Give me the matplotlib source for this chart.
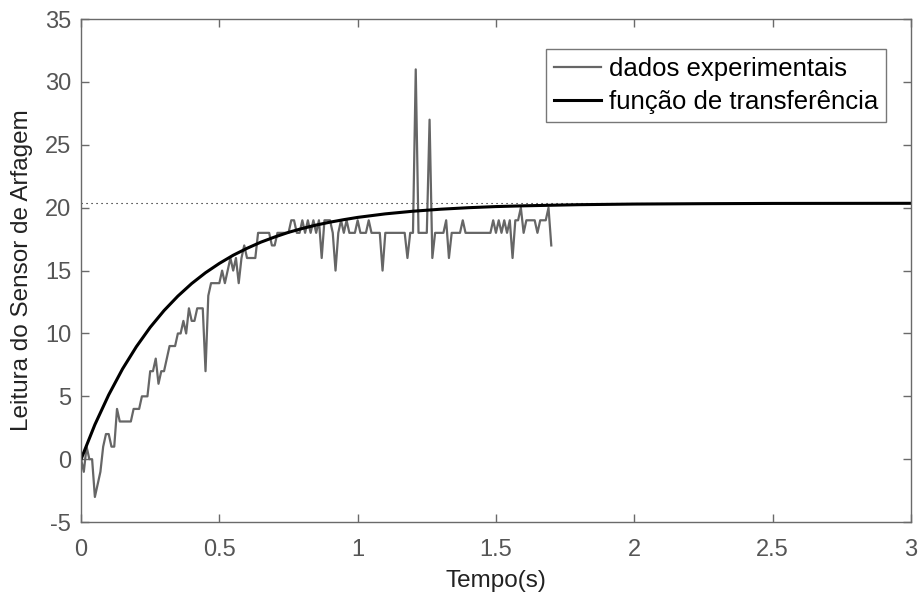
import numpy as np
import matplotlib
matplotlib.use("Agg")
import matplotlib.pyplot as plt

# experimental samples (dt = 0.01 s)
t_data = [i / 100 for i in range(171)]
y_data = [0, -1, 1, 0, 0, -3, -2, -1, 1, 2,
          2, 1, 1, 4, 3, 3, 3, 3, 3, 4,
          4, 4, 5, 5, 5, 7, 7, 8, 6, 7,
          7, 8, 9, 9, 9, 10, 10, 11, 10, 12,
          11, 11, 12, 12, 12, 7, 13, 14, 14, 14,
          14, 15, 14, 15, 16, 15, 16, 14, 16, 17,
          16, 16, 16, 16, 18, 18, 18, 18, 18, 17,
          17, 18, 18, 18, 18, 18, 19, 19, 18, 18,
          19, 18, 19, 18, 19, 18, 19, 16, 19, 19,
          19, 18, 15, 18, 19, 18, 19, 18, 18, 18,
          19, 18, 18, 18, 19, 18, 18, 18, 18, 15,
          18, 18, 18, 18, 18, 18, 18, 18, 16, 18,
          18, 31, 18, 18, 18, 18, 27, 16, 18, 18,
          18, 18, 19, 16, 18, 18, 18, 18, 19, 18,
          18, 18, 18, 18, 18, 18, 18, 18, 18, 19,
          18, 19, 18, 19, 18, 19, 16, 19, 19, 20,
          18, 19, 19, 19, 19, 18, 19, 19, 19, 20,
          17]

# transfer function response
t_tf = [0, 0.05, 0.10, 0.15, 0.20, 0.25, 0.30, 0.35, 0.40, 0.45, 0.50,
        0.55, 0.60, 0.65, 0.70, 0.75, 0.80, 0.85, 0.90, 0.95, 1.00,
        1.10, 1.20, 1.30, 1.40, 1.50, 1.60, 1.80, 2.00, 2.25, 2.50, 3.00]
y_tf = [0, 2.75, 5.12, 7.18, 8.95, 10.49, 11.82, 12.97, 13.97, 14.83, 15.57,
        16.22, 16.77, 17.26, 17.67, 18.04, 18.35, 18.62, 18.85, 19.05, 19.23,
        19.51, 19.72, 19.88, 20.00, 20.09, 20.15, 20.24, 20.29, 20.32, 20.34, 20.35]

final_value = 20.35

xticks = [0, 0.5, 1, 1.5, 2, 2.5, 3]
xtick_labels = ["0", "0.5", "1", "1.5", "2", "2.5", "3"]
yticks = [-5, 0, 5, 10, 15, 20, 25, 30, 35]

plt.rcParams['font.family'] = ['Liberation Sans', 'DejaVu Sans']
plt.rcParams['axes.unicode_minus'] = False

fig = plt.figure(figsize=(9.21, 5.96), dpi=100)
ax = fig.add_axes([0.088, 0.124, 0.901, 0.844])

ax.plot([0, 3], [final_value, final_value], color='black', lw=0.8,
        linestyle=(0, (1, 3.5)))
ax.plot(t_data, y_data, color='#666666', lw=1.6, label='dados experimentais')
ax.plot(t_tf, y_tf, color='black', lw=2.2, label='função de transferência')

ax.set_xlim(0, 3)
ax.set_ylim(-5, 35)
ax.set_xticks(xticks)
ax.set_xticklabels(xtick_labels)
ax.set_yticks(yticks)

gray = '#6a6a6a'
for s in ax.spines.values():
    s.set_color(gray)
    s.set_linewidth(1.0)
ax.tick_params(direction='in', length=6, width=1.0, colors=gray,
               labelsize=17, top=True, right=True)
ax.tick_params(axis='x', pad=12)
ax.tick_params(axis='y', pad=7)
for lab in ax.get_xticklabels() + ax.get_yticklabels():
    lab.set_color('#555555')

ax.set_xlabel('Tempo(s)', fontsize=17.5, color='#222222', labelpad=7)
ax.set_ylabel('Leitura do Sensor de Arfagem', fontsize=17.5, color='#222222', labelpad=9)

leg = ax.legend(loc='upper right', bbox_to_anchor=(0.970, 0.940), fontsize=18.5,
                frameon=True, fancybox=False, handlelength=1.85, handletextpad=0.3,
                borderpad=0.3, labelspacing=0.35, borderaxespad=0)
leg.get_frame().set_edgecolor('#555555')
leg.get_frame().set_linewidth(1.0)

fig.savefig('out.png', dpi=100)
